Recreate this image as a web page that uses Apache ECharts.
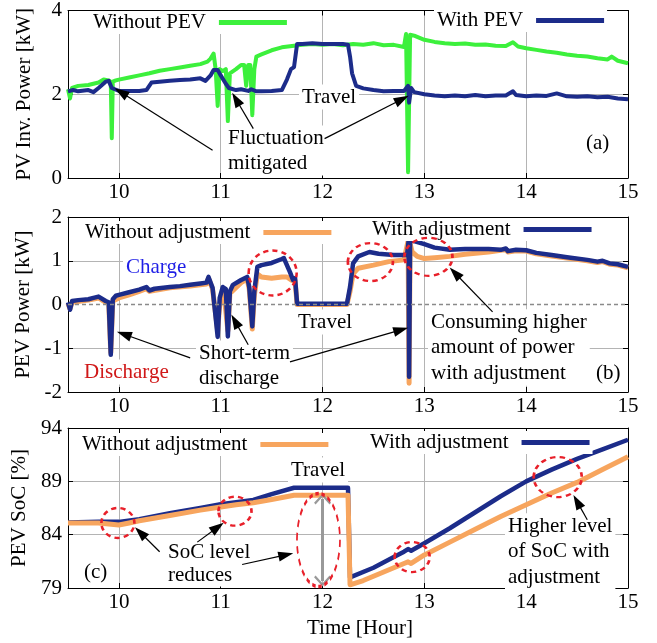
<!DOCTYPE html>
<html><head><meta charset="utf-8">
<script src="https://cdn.jsdelivr.net/npm/echarts@6/dist/echarts.min.js"></script>
<style>html,body{margin:0;padding:0;background:#fff}#c{width:657px;height:643px}</style>
</head><body><div id="c"></div>
<script>
// ---------- tick labels ----------
const xTicks = [10, 11, 12, 13, 14, 15];
const yTicksA = [0, 2, 4];
const yTicksB = [-2, -1, 0, 1, 2];
const yTicksC = [79, 84, 89, 94];

// ---------- panel (a): PV inverter power [kW] ----------
const pvWithoutPEV = [[9.5,2.12],[9.52,1.9],[9.54,2.15],[9.6,2.2],[9.7,2.22],[9.8,2.28],[9.85,2.35],[9.9,2.33],[9.92,2.3],[9.93,0.95],[9.94,2.3],[9.97,2.33],[10.0,2.35],[10.1,2.4],[10.2,2.45],[10.3,2.5],[10.4,2.56],[10.5,2.6],[10.6,2.64],[10.7,2.68],[10.8,2.72],[10.87,2.78],[10.9,2.85],[10.93,2.97],[10.95,2.6],[10.97,1.72],[10.99,2.6],[11.02,2.55],[11.05,2.6],[11.07,1.36],[11.09,2.5],[11.15,2.6],[11.2,2.7],[11.23,2.7],[11.25,2.2],[11.27,2.7],[11.29,2.7],[11.31,1.5],[11.33,2.6],[11.35,2.9],[11.4,2.95],[11.5,3.05],[11.6,3.12],[11.7,3.15],[11.8,3.18],[11.9,3.2],[12.0,3.18],[12.1,3.2],[12.2,3.17],[12.3,3.2],[12.4,3.18],[12.5,3.22],[12.6,3.17],[12.7,3.18],[12.8,3.13],[12.82,3.44],[12.84,0.14],[12.86,3.42],[12.9,3.4],[13.0,3.3],[13.1,3.25],[13.2,3.22],[13.3,3.2],[13.4,3.21],[13.5,3.18],[13.6,3.19],[13.7,3.16],[13.8,3.15],[13.87,3.24],[13.92,3.14],[14.0,3.1],[14.1,3.06],[14.2,3.02],[14.3,2.99],[14.4,2.95],[14.5,2.92],[14.6,2.9],[14.7,2.86],[14.8,2.83],[14.84,2.9],[14.9,2.8],[15.0,2.74]];
const pvWithPEV = [[9.5,2.07],[9.55,2.1],[9.6,2.07],[9.7,2.1],[9.75,2.05],[9.8,2.15],[9.87,2.3],[9.9,2.32],[9.93,2.15],[9.96,2.12],[10.0,2.08],[10.1,2.08],[10.2,2.08],[10.27,2.1],[10.32,2.28],[10.4,2.3],[10.5,2.32],[10.6,2.34],[10.7,2.35],[10.8,2.38],[10.85,2.32],[10.9,2.45],[10.93,2.58],[10.97,2.58],[11.0,2.45],[11.05,2.25],[11.08,2.15],[11.15,2.1],[11.2,2.12],[11.27,2.08],[11.3,2.12],[11.35,2.07],[11.4,2.07],[11.5,2.08],[11.6,2.1],[11.65,2.35],[11.69,2.6],[11.72,2.65],[11.75,3.2],[11.8,3.2],[11.9,3.22],[12.0,3.2],[12.1,3.2],[12.2,3.2],[12.25,3.18],[12.27,2.9],[12.29,2.5],[12.33,2.2],[12.4,2.14],[12.5,2.1],[12.6,2.07],[12.7,2.08],[12.8,2.08],[12.84,2.2],[12.85,1.8],[12.87,2.15],[12.9,2.05],[13.0,2.0],[13.1,1.97],[13.2,1.95],[13.3,1.97],[13.4,1.95],[13.5,1.98],[13.6,1.95],[13.7,1.97],[13.8,1.97],[13.87,2.07],[13.9,1.98],[14.0,1.95],[14.1,1.97],[14.2,1.96],[14.3,2.02],[14.4,1.95],[14.5,1.94],[14.6,1.95],[14.7,1.93],[14.8,1.94],[14.9,1.9],[15.0,1.88]];

// ---------- panel (b): PEV power [kW] ----------
const pevPowerWithout = [[9.5,0.02],[9.52,-0.1],[9.54,0.05],[9.7,0.1],[9.8,0.15],[9.87,0.05],[9.9,0.03],[9.92,-1.1],[9.94,0.08],[10.0,0.15],[10.1,0.22],[10.2,0.3],[10.27,0.36],[10.3,0.3],[10.5,0.38],[10.7,0.42],[10.86,0.47],[10.88,0.6],[10.92,0.35],[10.97,-0.6],[10.99,0.0],[11.03,0.3],[11.07,-0.6],[11.09,0.25],[11.2,0.5],[11.26,0.58],[11.28,0.35],[11.31,-0.56],[11.33,0.2],[11.36,0.7],[11.4,0.63],[11.5,0.6],[11.6,0.63],[11.65,0.63],[11.7,0.55],[11.73,0.55],[11.75,0.0],[12.24,0.0],[12.27,0.3],[12.3,0.7],[12.35,0.83],[12.5,0.9],[12.65,0.98],[12.8,1.02],[12.84,1.45],[12.85,-1.8],[12.86,1.4],[12.88,1.2],[12.93,1.1],[13.0,1.05],[13.1,1.07],[13.25,1.1],[13.4,1.15],[13.63,1.2],[13.75,1.24],[13.8,1.26],[13.82,1.2],[13.9,1.23],[14.0,1.22],[14.1,1.16],[14.25,1.11],[14.4,1.06],[14.6,1.0],[14.7,0.96],[14.75,0.98],[14.82,0.92],[14.9,0.9],[15.0,0.84]];
const pevPowerWith = [[9.5,0.05],[9.52,-0.12],[9.54,0.08],[9.6,0.1],[9.7,0.12],[9.75,0.15],[9.8,0.18],[9.87,0.08],[9.9,0.05],[9.92,-1.15],[9.94,0.12],[9.97,0.2],[10.0,0.22],[10.1,0.28],[10.2,0.34],[10.27,0.4],[10.3,0.32],[10.35,0.36],[10.5,0.4],[10.6,0.42],[10.7,0.45],[10.8,0.48],[10.86,0.5],[10.88,0.63],[10.92,0.38],[10.97,-0.74],[10.99,0.15],[11.02,0.4],[11.05,0.35],[11.07,-0.73],[11.09,0.3],[11.12,0.45],[11.2,0.56],[11.26,0.63],[11.28,0.4],[11.31,-0.5],[11.33,0.3],[11.36,0.86],[11.4,0.9],[11.5,0.95],[11.6,1.04],[11.62,1.06],[11.68,0.74],[11.71,0.56],[11.73,0.6],[11.75,0.02],[11.8,0.02],[12.0,0.02],[12.24,0.02],[12.27,0.4],[12.3,0.94],[12.35,1.1],[12.46,1.2],[12.55,1.16],[12.7,1.13],[12.83,1.13],[12.845,1.45],[12.85,-1.65],[12.86,1.48],[12.9,1.45],[13.0,1.38],[13.1,1.3],[13.25,1.25],[13.4,1.27],[13.5,1.27],[13.63,1.27],[13.75,1.25],[13.8,1.28],[13.82,1.22],[13.9,1.25],[14.0,1.24],[14.1,1.18],[14.25,1.13],[14.4,1.08],[14.6,1.02],[14.7,0.98],[14.75,1.0],[14.82,0.94],[14.9,0.92],[15.0,0.86]];

// ---------- panel (c): PEV SoC [%] ----------
const socWithout = [[9.5,85.1],[9.8,85.1],[9.9,85.0],[10.0,84.9],[10.1,85.1],[10.2,85.3],[10.5,85.8],[10.8,86.3],[11.0,86.6],[11.15,86.8],[11.32,87.0],[11.5,87.3],[11.72,87.7],[12.25,87.7],[12.27,79.3],[12.4,79.7],[12.6,80.5],[12.8,81.3],[12.84,81.45],[12.87,81.3],[13.0,82.1],[13.25,83.3],[13.5,84.5],[13.75,85.7],[14.0,86.8],[14.25,87.9],[14.5,88.9],[14.75,90.1],[15.0,91.3]];
const socWith = [[9.5,85.15],[9.8,85.2],[10.0,85.2],[10.2,85.45],[10.5,86.0],[10.8,86.5],[11.0,86.85],[11.32,87.25],[11.5,87.8],[11.72,88.4],[12.25,88.4],[12.27,80.0],[12.5,80.9],[12.7,81.9],[12.8,82.4],[12.84,82.65],[12.87,82.5],[13.0,83.2],[13.25,84.6],[13.5,86.1],[13.75,87.6],[14.0,89.0],[14.25,90.1],[14.5,91.1],[14.75,92.0],[15.0,92.9]];

// ---------- styling ----------
const FONT = '"Liberation Serif", "Times New Roman", serif';
const FS = 21;
const GREEN = '#3cf03c', NAVY = '#1c2c8a', ORANGE = '#f7a55e', RED = '#e8202a', GRIDC = '#b4b4b4';
const grids = [
  {left: 68, right: 29, top: 8, height: 170},
  {left: 68, right: 29, top: 217, height: 175},
  {left: 68, right: 29, top: 428, height: 160}
];
const yRanges = [[0, 4, yTicksA], [-2, 2, yTicksB], [79, 94, yTicksC]];
const yNames = ['PV Inv. Power [kW]', 'PEV Power [kW]', 'PEV SoC [%]'];

const xAxes = [], yAxes = [];
for (let g = 0; g < 3; g++) {
  xAxes.push({type: 'value', gridIndex: g, position: 'bottom', min: 9.5, max: 15,
    axisLine: {show: true, onZero: false, lineStyle: {color: '#000', width: 1}},
    axisTick: {show: true, inside: true, length: 5, customValues: xTicks, lineStyle: {color: '#000'}},
    axisLabel: {show: true, customValues: xTicks, margin: 4, fontFamily: FONT, fontSize: FS, color: '#000'},
    splitLine: {show: true, lineStyle: {color: GRIDC, width: 1}}});
}
for (let g = 0; g < 3; g++) {
  xAxes.push({type: 'value', gridIndex: g, position: 'top', min: 9.5, max: 15,
    axisLine: {show: true, onZero: false, lineStyle: {color: '#000', width: 1}},
    axisTick: {show: true, inside: true, length: 5, customValues: xTicks, lineStyle: {color: '#000'}},
    axisLabel: {show: false}, splitLine: {show: false}});
}
for (let g = 0; g < 3; g++) {
  const r = yRanges[g];
  const splitColor = g === 1 ? [GRIDC, GRIDC, 'rgba(0,0,0,0)', GRIDC, GRIDC] : [GRIDC];
  yAxes.push({type: 'value', gridIndex: g, position: 'left', min: r[0], max: r[1],
    name: yNames[g], nameLocation: 'middle', nameRotate: 90, nameGap: 33,
    nameTextStyle: {fontFamily: FONT, fontSize: FS, color: '#000'},
    axisLine: {show: true, onZero: false, lineStyle: {color: '#000', width: 1}},
    axisTick: {show: true, inside: true, length: 5, customValues: r[2], lineStyle: {color: '#000'}},
    axisLabel: {show: true, customValues: r[2], margin: 6, fontFamily: FONT, fontSize: FS, color: '#000'},
    splitLine: {show: true, lineStyle: {color: splitColor, width: 1}}});
}
for (let g = 0; g < 3; g++) {
  const r = yRanges[g];
  yAxes.push({type: 'value', gridIndex: g, position: 'right', min: r[0], max: r[1],
    axisLine: {show: true, onZero: false, lineStyle: {color: '#000', width: 1}},
    axisTick: {show: true, inside: true, length: 5, customValues: r[2], lineStyle: {color: '#000'}},
    axisLabel: {show: false}, splitLine: {show: false}});
}

// annotation helpers (positions in data coordinates)
function arrow(x1, y1, x2, y2) {
  return [{coord: [x1, y1], symbol: 'none'}, {coord: [x2, y2], symbol: 'triangle', symbolSize: [10, 15]}];
}
const ELLIPSE = 'path://M0,50 A50,50 0 1,1 100,50 A50,50 0 1,1 0,50 Z';
function ring(x, y, w, h) {
  return {coord: [x, y], symbol: ELLIPSE, symbolSize: [w, h],
    itemStyle: {color: 'rgba(0,0,0,0)', borderColor: RED, borderWidth: 2.5, borderType: [5, 4]}};
}
const CHEVRON = 'path://M0,0 L10,10 L8.2,11.8 L0,3.6 L-8.2,11.8 L-10,10 Z';
const arrowLine = {silent: true, animation: false, label: {show: false}, lineStyle: {color: '#000', width: 1.2, type: 'solid'}, itemStyle: {color: '#000'}};

function line(name, data, color, width, g, extra) {
  return Object.assign({type: 'line', name: name, data: data, xAxisIndex: g, yAxisIndex: g,
    showSymbol: false, symbol: 'none', animation: false, z: 2,
    lineStyle: {color: color, width: width, join: 'round'}, itemStyle: {color: color}}, extra || {});
}

const series = [
  line('Without PEV', pvWithoutPEV, GREEN, 4, 0),
  line('With PEV', pvWithPEV, NAVY, 4, 0, {
    markLine: Object.assign({}, arrowLine, {data: [
      arrow(10.92, 0.66, 10.02, 2.05),
      arrow(11.32, 1.18, 11.15, 1.88),
      arrow(12.02, 0.94, 12.78, 1.88)
    ]})
  }),
  line('Without adjustment', pevPowerWithout, ORANGE, 5, 1, {
    markLine: {silent: true, animation: false, symbol: 'none', label: {show: false},
      lineStyle: {color: '#8a8a8a', width: 1.3, type: [4, 3]}, data: [{yAxis: 0}]}
  }),
  line('With adjustment', pevPowerWith, NAVY, 4.5, 1, {
    markLine: Object.assign({}, arrowLine, {data: [
      arrow(10.70, -1.22, 10.05, -0.68),
      arrow(11.27, -0.92, 11.14, -0.38),
      arrow(11.68, -1.31, 12.77, -0.58),
      arrow(13.67, -0.17, 13.30, 0.72)
    ]}),
    markPoint: {silent: true, animation: false, label: {show: false}, data: [
      ring(11.51, 0.72, 48, 45), ring(12.47, 0.97, 45, 38), ring(13.04, 1.09, 48, 38)
    ]}
  }),
  line('With adjustment', socWith, NAVY, 4.5, 2),
  line('Without adjustment', socWithout, ORANGE, 5, 2, {
    markLine: Object.assign({}, arrowLine, {data: [
      arrow(10.40, 82.4, 10.21, 84.2),
      arrow(10.77, 83.3, 10.97, 84.7),
      arrow(11.21, 81.2, 11.64, 82.1),
      arrow(14.60, 85.4, 14.50, 87.1),
      [{coord: [12.0, 87.35], symbol: CHEVRON, symbolSize: [17, 11], lineStyle: {color: '#999', width: 3}, itemStyle: {color: '#999'}},
       {coord: [12.0, 79.65], symbol: CHEVRON, symbolSize: [17, 11], itemStyle: {color: '#999'}}]
    ]}),
    markPoint: {silent: true, animation: false, label: {show: false}, data: [
      ring(9.99, 85.1, 33, 30), ring(11.14, 86.2, 33, 29), ring(11.96, 83.5, 43, 93),
      ring(12.88, 81.9, 35, 30), ring(14.31, 89.4, 48, 40)
    ]}
  })
];

const legendBase = {orient: 'horizontal', align: 'right', icon: 'rect', itemWidth: 68, itemHeight: 5,
  padding: [1, 3], backgroundColor: '#fff', selectedMode: false, itemGap: 0,
  textStyle: {fontFamily: FONT, fontSize: FS, color: '#000', padding: [0, 8, 0, 0]}};
const legends = [
  Object.assign({}, legendBase, {data: ['Without PEV'], left: 90, top: 11}),
  Object.assign({}, legendBase, {data: ['With PEV'], left: 434, top: 9}),
  Object.assign({}, legendBase, {data: ['Without adjustment'], left: 82, top: 221}),
  Object.assign({}, legendBase, {data: ['With adjustment'], left: 369, top: 218}),
  Object.assign({}, legendBase, {data: ['Without adjustment'], left: 79, top: 433}),
  Object.assign({}, legendBase, {data: ['With adjustment'], left: 367, top: 431})
];

function label(text, x, cy, opts) {
  const lines = text.split('\n').length;
  const lh = (opts && opts.lh) || 25;
  return {type: 'text', left: x, top: cy - lh / 2, z: 1,
    style: Object.assign({text: text, fontFamily: FONT, fontSize: FS, fill: '#000', lineHeight: lh,
      backgroundColor: '#fff', padding: [0, 3]}, opts && opts.style || {})};
}
const graphics = [
  label('Travel', 299, 97),
  label('Fluctuation\nmitigated', 225, 138),
  label('(a)', 583, 143),
  label('Charge', 123, 267, {style: {fill: '#1f1fe6'}}),
  label('Discharge', 81, 372, {style: {fill: '#d01818'}}),
  label('Short-term\ndischarge', 196, 353),
  label('Travel', 295, 322),
  label('Consuming higher\namount of power\nwith adjustment', 428, 322, {lh: 25.5}),
  label('(b)', 593, 373),
  label('Travel', 288, 470),
  label('SoC level\nreduces', 165, 552, {lh: 23}),
  label('(c)', 81, 572),
  label('Higher level\nof SoC with\nadjustment', 505, 526, {lh: 25.5}),
  {type: 'text', left: 307, top: 618, z: 1, style: {text: 'Time [Hour]', fontFamily: FONT, fontSize: FS, fill: '#000'}}
];

const chart = echarts.init(document.getElementById('c'), null, {renderer: 'canvas'});
chart.setOption({
  animation: false,
  backgroundColor: '#fff',
  grid: grids,
  xAxis: xAxes,
  yAxis: yAxes,
  legend: legends,
  series: series,
  graphic: graphics
});
</script></body></html>
